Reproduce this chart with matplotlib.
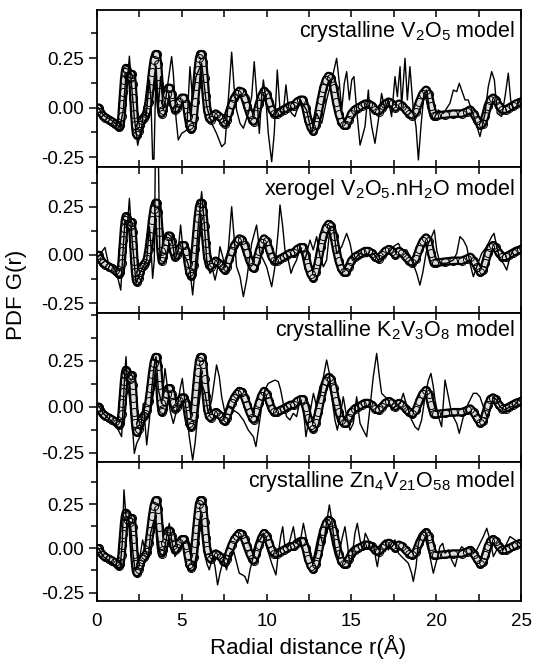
import matplotlib
matplotlib.use("Agg")
import matplotlib.pyplot as plt
from matplotlib.ticker import MultipleLocator

plt.rcParams['font.family'] = ['Liberation Sans', 'DejaVu Sans']
plt.rcParams['mathtext.fontset'] = 'custom'
plt.rcParams['mathtext.rm'] = 'Liberation Sans'
plt.rcParams['mathtext.it'] = 'Liberation Sans'
plt.rcParams['mathtext.default'] = 'regular'

# ---------------- data ----------------
exp_r = [0.00, 0.10, 0.20, 0.35, 0.50, 0.70, 0.90, 1.05, 1.20, 1.30, 1.38, 1.45, 1.50, 1.55, 1.60, 1.65,
         1.70, 1.78, 1.85, 1.92, 1.98, 2.04, 2.10, 2.15, 2.20, 2.25, 2.30, 2.36, 2.45, 2.55, 2.65, 2.75,
         2.85, 2.95, 3.05, 3.15, 3.25, 3.35, 3.45, 3.52, 3.60, 3.68, 3.75, 3.82, 3.90, 4.00, 4.10, 4.20,
         4.30, 4.40, 4.50, 4.60, 4.70, 4.85, 5.00, 5.15, 5.25, 5.35, 5.45, 5.55, 5.62, 5.70, 5.78, 5.86,
         5.94, 6.02, 6.10, 6.18, 6.26, 6.34, 6.42, 6.50, 6.60, 6.70, 6.85, 7.00, 7.15, 7.30, 7.45, 7.55,
         7.65, 7.80, 7.95, 8.10, 8.25, 8.40, 8.55, 8.70, 8.85, 9.00, 9.15, 9.25, 9.40, 9.55, 9.70, 9.85,
         10.00, 10.15, 10.30, 10.45, 10.60, 10.80, 11.00, 11.20, 11.40, 11.60, 11.80, 12.00, 12.15, 12.30,
         12.45, 12.60, 12.75, 12.90, 13.05, 13.20, 13.35, 13.50, 13.65, 13.80, 13.95, 14.10, 14.25, 14.40,
         14.55, 14.70, 14.85, 15.00, 15.20, 15.40, 15.60, 15.80, 16.00, 16.20, 16.40, 16.60, 16.80, 17.00,
         17.20, 17.40, 17.60, 17.80, 18.00, 18.20, 18.40, 18.60, 18.80, 19.00, 19.20, 19.40, 19.55, 19.70,
         19.85, 20.00, 20.50, 21.00, 21.50, 21.80, 22.00, 22.20, 22.40, 22.60, 22.75, 22.90, 23.05, 23.20,
         23.35, 23.50, 23.70, 23.90, 24.10, 24.30, 24.50, 24.70, 25.00]
exp_g = [0.00, 0.00, -0.02, -0.04, -0.05, -0.06, -0.07, -0.08, -0.09, -0.10, -0.09, -0.04, 0.02, 0.08, 0.14, 0.18,
         0.20, 0.19, 0.16, 0.15, 0.17, 0.17, 0.12, 0.05, -0.03, -0.09, -0.13, -0.14, -0.12, -0.09, -0.06, -0.05,
         -0.04, -0.02, 0.03, 0.10, 0.18, 0.24, 0.27, 0.27, 0.22, 0.12, 0.02, -0.03, -0.01, 0.03, 0.07, 0.10,
         0.10, 0.07, 0.02, -0.01, 0.00, 0.03, 0.05, 0.05, 0.02, -0.04, -0.09, -0.11, -0.10, -0.05, 0.03, 0.11,
         0.19, 0.25, 0.27, 0.27, 0.23, 0.15, 0.06, -0.01, -0.05, -0.06, -0.04, -0.03, -0.04, -0.05, -0.07, -0.08,
         -0.06, -0.02, 0.02, 0.05, 0.07, 0.085, 0.08, 0.05, 0.01, -0.03, -0.06, -0.07, -0.03, 0.02, 0.06, 0.085,
         0.07, 0.03, -0.01, -0.03, -0.03, -0.02, -0.01, 0.00, 0.01, 0.01, 0.03, 0.04, 0.04, 0.00,
         -0.06, -0.10, -0.12, -0.09, -0.03, 0.04, 0.10, 0.14, 0.16, 0.15, 0.10, 0.03, -0.03, -0.07,
         -0.09, -0.09, -0.06, -0.03, -0.01, 0.00, 0.01, 0.02, 0.02, 0.01, -0.01, -0.02, 0.00, 0.02,
         0.03, 0.02, 0.00, 0.02, 0.01, -0.01, -0.03, -0.04, -0.02, 0.03, 0.07, 0.09, 0.07, 0.01,
         -0.04, -0.04, -0.035, -0.03, -0.03, -0.02, -0.01, -0.03, -0.06, -0.09, -0.08, -0.04, 0.01, 0.04,
         0.05, 0.04, 0.01, -0.01, -0.01, 0.00, 0.01, 0.02, 0.03]

# model 1: crystalline V2O5
m1_r = [0.08, 0.40, 0.80, 1.10, 1.36, 1.55, 1.71, 1.79, 1.91, 2.04, 2.20, 2.40, 2.63, 2.77, 2.89, 3.09,
        3.18, 3.28, 3.36, 3.48, 3.62, 3.75, 3.91, 4.07, 4.40, 4.50, 4.66, 4.79, 4.99, 5.29, 5.48, 5.64,
        5.84, 6.17, 6.47, 6.76, 7.05, 7.35, 7.55, 7.74, 7.94, 8.08, 8.23, 8.43, 8.63, 8.92, 9.12, 9.27,
        9.41, 9.57, 9.71, 9.81, 9.96, 10.10, 10.30, 10.45, 10.63, 10.79, 10.98, 11.14, 11.28, 11.48, 11.67,
        11.97, 12.36, 12.66, 12.95, 13.25, 13.54, 13.84, 14.13, 14.29, 14.43, 14.58, 14.72, 14.88, 15.02,
        15.15, 15.31, 15.51, 15.80, 16.00, 16.10, 16.20, 16.39, 16.59, 16.78, 16.98, 17.18, 17.37, 17.57,
        17.71, 17.87, 17.96, 18.16, 18.30, 18.45, 18.65, 18.81, 18.95, 19.10, 19.28, 19.44, 19.63, 19.83,
        20.12, 20.42, 20.81, 21.01, 21.21, 21.36, 21.50, 21.70, 21.89, 22.09, 22.29, 22.58, 22.88, 23.07,
        23.27, 23.43, 23.60, 23.86, 24.06, 24.25, 24.39, 24.55, 24.74, 24.94]
m1_g = [0.00, -0.04, -0.06, -0.08, -0.10, -0.01, 0.17, 0.14, 0.26, 0.11, -0.05, -0.19, -0.10, 0.005, -0.045, 0.14,
        0.04, -0.26, -0.26, 0.21, 0.005, 0.157, -0.012, 0.056, 0.258, 0.174, -0.054, -0.163, -0.13, -0.113, 0.207, 0.039,
        0.157, 0.224, 0.005, -0.079, -0.13, -0.197, -0.18, 0.039, 0.28, 0.106, -0.012, -0.079, -0.104, -0.029, 0.056, 0.232,
        0.072, -0.13, 0.056, 0.14, 0.039, -0.13, -0.273, -0.13, 0.19, -0.012, -0.029, 0.115, 0.005, -0.029, -0.045,
        0.039, -0.012, -0.13, -0.029, -0.079, 0.039, 0.14, 0.249, 0.123, -0.012, 0.123, 0.182, 0.039, 0.14,
        0.157, -0.012, -0.189, -0.096, 0.089, -0.029, -0.096, -0.18, -0.062, 0.072, -0.012, 0.039, -0.045, 0.157,
        0.056, 0.207, 0.005, 0.249, 0.039, 0.207, -0.012, -0.096, -0.264, -0.096, 0.072, 0.089, -0.029, -0.062,
        -0.012, -0.029, 0.022, 0.089, 0.081, 0.123, 0.089, 0.039, 0.039, -0.012, -0.062, -0.146, -0.029, 0.106,
        0.182, 0.14, -0.029, -0.045, 0.056, 0.174, 0.039, -0.012, 0.005, 0.039]

# model 2: xerogel V2O5.nH2O
m2_r = [0.08, 0.47, 0.67, 0.96, 1.16, 1.40, 1.55, 1.65, 1.79, 1.91, 2.04, 2.18, 2.30, 2.53, 2.73, 2.93,
        3.09, 3.18, 3.28, 3.38, 3.45, 3.60, 3.71, 3.87, 4.11, 4.40, 4.60, 4.79, 4.93, 5.09, 5.29, 5.48,
        5.64, 5.78, 5.97, 6.17, 6.31, 6.47, 6.66, 6.82, 6.96, 7.09, 7.25, 7.41, 7.55, 7.74, 7.94, 8.08,
        8.23, 8.43, 8.63, 8.82, 9.12, 9.41, 9.61, 9.81, 10.00, 10.30, 10.49, 10.69, 10.79, 10.95, 11.08,
        11.28, 11.44, 11.57, 11.77, 11.97, 12.26, 12.56, 12.75, 12.95, 13.15, 13.35, 13.54, 13.74, 13.93,
        14.13, 14.43, 14.72, 14.92, 15.11, 15.51, 15.90, 16.29, 16.59, 16.88, 17.18, 17.47, 17.77, 17.96,
        18.26, 18.55, 18.85, 19.04, 19.20, 19.40, 19.54, 19.73, 19.89, 20.03, 20.22, 20.62, 21.01, 21.21,
        21.40, 21.60, 21.80, 21.99, 22.19, 22.39, 22.68, 22.98, 23.27, 23.41, 23.57, 23.76, 23.96, 24.16,
        24.35, 24.55, 24.94]
m2_g = [-0.009, 0.039, -0.043, -0.061, -0.095, -0.182, 0.043, 0.181, 0.147, 0.293, 0.112, -0.026, -0.147, -0.095, -0.061, -0.026,
        0.147, 0.043, -0.121, -0.026, 0.62, 0.62, -0.026, 0.06, 0.112, 0.095, -0.026, 0.026, 0.155, 0.008, -0.026, -0.078,
        -0.207, -0.078, 0.147, 0.328, 0.181, -0.026, -0.095, -0.078, -0.13, -0.078, 0.043, -0.009, -0.061, 0.026, 0.25, 0.095,
        -0.061, -0.112, -0.216, -0.13, 0.06, 0.155, 0.008, -0.026, -0.061, -0.164, -0.061, 0.129, 0.259, 0.147, 0.026,
        -0.026, -0.095, -0.061, -0.026, 0.043, -0.026, 0.077, 0.026, 0.095, -0.009, -0.061, -0.026, 0.147, 0.147,
        0.008, 0.043, 0.112, 0.06, -0.026, 0.008, -0.009, 0.008, -0.026, -0.009, 0.008, 0.043, 0.06, 0.026,
        0.026, -0.026, -0.095, -0.156, -0.095, 0.008, 0.06, 0.095, 0.129, 0.026, -0.043, -0.043, -0.026, 0.008,
        0.095, 0.077, 0.043, -0.043, -0.112, -0.061, 0.008, 0.043, 0.095, 0.112, 0.043, -0.026, -0.043, -0.078,
        -0.009, 0.026, 0.043]

# model 3: crystalline K2V3O8
m3_r = [0.08, 0.37, 0.77, 1.16, 1.45, 1.55, 1.65, 1.71, 1.79, 1.91, 2.04, 2.20, 2.34, 2.53, 2.73, 2.83,
        2.93, 3.09, 3.22, 3.36, 3.48, 3.62, 3.81, 4.01, 4.15, 4.30, 4.50, 4.70, 4.89, 5.03, 5.15, 5.29,
        5.44, 5.64, 5.78, 5.97, 6.17, 6.37, 6.56, 6.76, 6.90, 7.05, 7.21, 7.35, 7.55, 7.74, 8.04, 8.33,
        8.63, 8.92, 9.22, 9.37, 9.51, 9.71, 9.90, 10.10, 10.30, 10.49, 10.69, 10.83, 10.98, 11.18, 11.38,
        11.57, 11.77, 11.97, 12.17, 12.32, 12.52, 12.76, 12.95, 13.15, 13.35, 13.54, 13.70, 13.84, 14.03,
        14.17, 14.33, 14.52, 14.72, 14.92, 15.11, 15.31, 15.51, 15.70, 15.90, 16.10, 16.29, 16.49, 16.65,
        16.78, 16.98, 17.18, 17.37, 17.57, 17.87, 18.06, 18.22, 18.36, 18.55, 18.75, 18.95, 19.14, 19.34,
        19.54, 19.69, 19.83, 19.93, 20.13, 20.32, 20.52, 20.72, 20.91, 21.21, 21.36, 21.60, 21.80, 21.99,
        22.19, 22.39, 22.58, 22.78, 22.98, 23.17, 23.37, 23.57, 23.76, 24.06, 24.35, 24.55, 24.84, 24.94]
m3_g = [0.009, -0.036, -0.072, -0.109, -0.163, 0.018, 0.199, 0.272, 0.127, 0.054, -0.036, -0.254, -0.199, -0.163, 0.018, -0.091,
        -0.208, -0.072, 0.091, 0.217, 0.272, 0.091, 0.018, 0.208, 0.109, -0.018, -0.091, -0.018, 0.091, 0.154, 0.054, -0.036,
        -0.163, -0.29, -0.199, -0.018, 0.127, 0.073, -0.036, 0.036, 0.127, 0.227, 0.163, 0.054, -0.036, 0.0, -0.018, -0.036,
        -0.072, -0.127, -0.163, -0.217, -0.127, 0.0, 0.091, 0.127, 0.136, 0.145, 0.136, 0.091, 0.018, -0.054, -0.072,
        -0.036, -0.054, 0.036, -0.018, -0.163, -0.054, 0.073, 0.0, 0.054, 0.163, 0.254, 0.181, 0.054, -0.072,
        -0.127, -0.054, 0.054, -0.054, -0.127, -0.091, 0.054, -0.091, -0.127, -0.163, 0.0, 0.163, 0.29, 0.163,
        0.073, 0.054, 0.036, -0.018, 0.0, 0.018, 0.073, 0.018, -0.018, -0.072, -0.109, -0.127, -0.072, 0.054,
        0.145, 0.181, 0.109, 0.036, -0.054, -0.109, 0.145, 0.054, -0.036, -0.091, -0.145, -0.054, 0.0, 0.036,
        0.073, 0.073, 0.054, 0.0, -0.054, -0.018, 0.054, 0.036, 0.0, -0.018, 0.0, 0.0, 0.036, 0.036]

# model 4: crystalline Zn4V21O58
m4_r = [0.08, 0.37, 0.77, 1.16, 1.36, 1.49, 1.59, 1.71, 1.85, 1.99, 2.10, 2.24, 2.38, 2.53, 2.69, 2.83,
        3.03, 3.16, 3.36, 3.52, 3.71, 3.91, 4.11, 4.26, 4.40, 4.60, 4.79, 5.09, 5.29, 5.48, 5.58, 5.72,
        5.88, 6.03, 6.17, 6.31, 6.47, 6.62, 6.82, 6.96, 7.11, 7.25, 7.45, 7.64, 7.84, 8.04, 8.19, 8.39,
        8.59, 8.72, 8.88, 9.02, 9.22, 9.41, 9.61, 9.81, 10.00, 10.30, 10.55, 10.69, 10.83, 10.95, 11.08,
        11.28, 11.48, 11.58, 11.73, 11.87, 11.97, 12.17, 12.36, 12.56, 12.76, 12.95, 13.15, 13.35, 13.50,
        13.70, 13.84, 14.03, 14.23, 14.43, 14.62, 14.76, 14.92, 15.07, 15.21, 15.35, 15.51, 15.66, 15.82,
        16.00, 16.14, 16.29, 16.45, 16.53, 16.65, 16.78, 16.98, 17.18, 17.37, 17.57, 17.77, 17.96, 18.16,
        18.36, 18.55, 18.65, 18.81, 18.95, 19.14, 19.34, 19.50, 19.63, 19.83, 20.03, 20.22, 20.38, 20.52,
        20.72, 20.91, 21.11, 21.31, 21.50, 21.70, 21.99, 22.19, 22.39, 22.58, 22.78, 22.98, 23.17, 23.37,
        23.57, 23.76, 23.96, 24.16, 24.35, 24.65, 24.94]
m4_g = [0.0, -0.047, -0.075, -0.104, -0.113, 0.028, 0.33, 0.179, 0.16, 0.122, -0.009, -0.122, -0.104, -0.047, 0.047, -0.009,
        -0.047, 0.085, 0.16, 0.104, -0.028, -0.047, 0.066, 0.141, 0.047, -0.047, -0.009, 0.028, 0.047, -0.009, -0.085, -0.104,
        -0.028, 0.16, 0.122, 0.009, -0.085, -0.122, -0.047, -0.104, -0.207, -0.141, -0.066, -0.122, -0.028, -0.009, -0.066, -0.141,
        -0.151, -0.16, -0.198, -0.122, -0.047, 0.028, 0.047, 0.085, 0.009, -0.085, -0.151, -0.028, 0.066, 0.122, 0.009,
        0.009, 0.085, 0.122, 0.028, 0.047, 0.028, 0.141, 0.047, -0.009, -0.085, -0.028, 0.085, 0.009, 0.122,
        0.245, 0.16, 0.009, -0.066, 0.047, 0.122, 0.028, -0.104, -0.028, 0.085, 0.141, 0.047, -0.009, 0.085,
        0.047, -0.009, 0.028, -0.066, -0.104, -0.028, 0.028, 0.047, -0.009, 0.028, 0.047, -0.028, -0.047, -0.066,
        -0.085, -0.141, -0.188, -0.104, 0.028, 0.085, 0.104, 0.047, -0.047, -0.141, -0.066, 0.009, 0.028, -0.028,
        -0.009, -0.066, -0.104, -0.028, 0.009, -0.009, 0.009, -0.028, -0.009, 0.028, 0.066, 0.113, 0.047, -0.047,
        -0.009, 0.009, -0.009, 0.028, 0.066, 0.047, 0.028]

models_r = [m1_r, m2_r, m3_r, m4_r]
models_g = [m1_g, m2_g, m3_g, m4_g]
labels = [r'crystalline V$_2$O$_5$ model',
          r'xerogel V$_2$O$_5$.nH$_2$O model',
          r'crystalline K$_2$V$_3$O$_8$ model',
          r'crystalline Zn$_4$V$_{21}$O$_{58}$ model']
yticks = [-0.25, 0.0, 0.25]
xticks = [0, 5, 10, 15, 20, 25]

# ---------------- layout ----------------
W, H = 537, 664
fig = plt.figure(figsize=(W / 100, H / 100), dpi=100)
x0, x1 = 97, 521
panels_px = [(10, 166.7), (166.7, 313.3), (313.3, 461.7), (461.7, 601)]
ylims = [(-0.298, 0.493), (-0.302, 0.457), (-0.299, 0.508), (-0.298, 0.489)]
label_y = [0.83, 0.805, 0.845, 0.815]

for i, (top, bot) in enumerate(panels_px):
    ax = fig.add_axes([x0 / W, 1 - bot / H, (x1 - x0) / W, (bot - top) / H])
    # experimental data: dense open circles
    ax.plot(exp_r, exp_g, color='black', lw=6.2, solid_capstyle='round', zorder=1)
    ax.plot(exp_r, exp_g, color='#dcdcdc', lw=3.0, solid_capstyle='round', zorder=2)
    ax.plot(exp_r, exp_g, ls='none', marker='o', ms=5.8, mfc='none', mec='black', mew=0.7, zorder=3)
    # model
    ax.plot(models_r[i], models_g[i], color='black', lw=1.0, zorder=4)

    ax.set_xlim(0, 25)
    ax.set_ylim(*ylims[i])
    ax.set_yticks(yticks)
    ax.yaxis.set_minor_locator(MultipleLocator(0.125))
    ax.set_xticks(xticks)
    ax.xaxis.set_minor_locator(MultipleLocator(2.5))
    ax.tick_params(axis='y', which='major', direction='out', length=6, width=1.1, labelsize=13.5, pad=3)
    ax.tick_params(axis='y', which='minor', direction='out', length=4, width=1.1)
    ax.tick_params(axis='x', which='both', direction='in', length=5, width=1.1,
                   top=True, bottom=True, labelsize=13.5, pad=9)
    ax.set_yticklabels(['-0.25', '0.00', '0.25'])
    if i < 3:
        ax.tick_params(axis='x', labelbottom=False)
    for s in ax.spines.values():
        s.set_linewidth(1.3)
    ax.text(0.985, label_y[i], labels[i], transform=ax.transAxes, ha='right', va='baseline',
            fontsize=15.5)

fig.text(308 / W, 1 - 647 / H, 'Radial distance r(Å)', ha='center', va='center', fontsize=16)
fig.text(17 / W, 1 - 295 / H, 'PDF G(r)', ha='center', va='center', rotation=90, fontsize=16)

fig.savefig('out.png', dpi=100)
